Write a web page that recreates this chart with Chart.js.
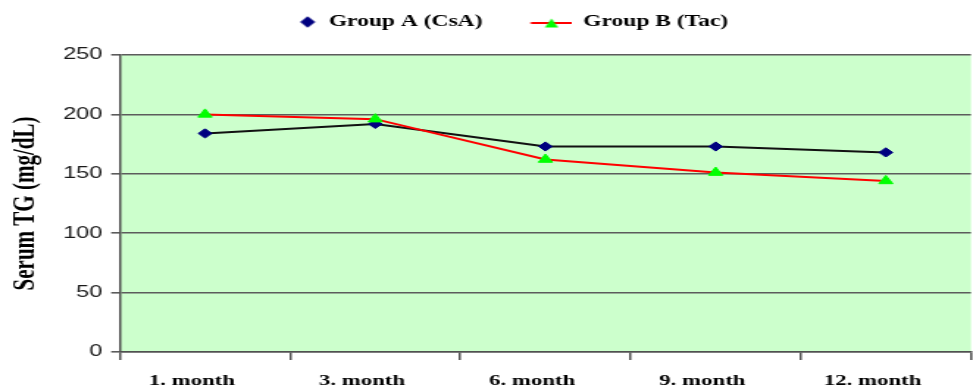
<!DOCTYPE html>
<html>
<head>
<meta charset="utf-8">
<script src="https://cdn.jsdelivr.net/npm/chart.js@4.4.1/dist/chart.umd.min.js"></script>
<style>
  html, body { margin: 0; padding: 0; background: #ffffff; overflow: hidden; }
  #frame { width: 973px; height: 387px; overflow: hidden; }
  /* the chart is laid out narrow and widened horizontally */
  #wrap { width: 662px; height: 387px; transform: scaleX(1.46979); transform-origin: 0 0; }
</style>
</head>
<body>
<div id="frame"><div id="wrap"><canvas id="c" width="662" height="387"></canvas></div></div>
<script>
const categories = ['1. month', '3. month', '6. month', '9. month', '12. month'];
const groupA = [184, 192, 173, 173, 168];   // Group A (CsA)
const groupB = [200, 196, 162, 151, 144];   // Group B (Tac)
const yTicks = [0, 50, 100, 150, 200, 250];
const seriesNames = ['Group A (CsA)', 'Group B (Tac)'];
const yTitle = 'Serum TG (mg/dL)';

const SERIF = '"Liberation Serif", "Times New Roman", serif';
const SANS = '"Liberation Sans", Arial, sans-serif';

// legend swatches
function makeIcon(w, h, draw) {
  const c = document.createElement('canvas');
  c.width = w; c.height = h;
  draw(c.getContext('2d'));
  return c;
}
const ICON_W = 50.5;
const iconA = makeIcon(ICON_W, 16, g => {
  g.fillStyle = '#000080';
  g.beginPath();
  g.moveTo(43.9, 2.2); g.lineTo(49, 8); g.lineTo(43.9, 13.8); g.lineTo(38.8, 8);
  g.closePath(); g.fill();
});
const iconB = makeIcon(ICON_W, 16, g => {
  g.strokeStyle = '#ff0000'; g.lineWidth = 2;
  g.beginPath(); g.moveTo(22.5, 9); g.lineTo(50.5, 9); g.stroke();
  g.fillStyle = '#00ff00';
  g.beginPath(); g.moveTo(36.7, 4.5); g.lineTo(41.2, 13.5); g.lineTo(32.2, 13.5); g.closePath(); g.fill();
});
const legendIcons = [iconA, iconB];

const plotFill = {
  id: 'plotFill',
  beforeDraw(chart) {
    const { ctx, chartArea: a } = chart;
    ctx.save();
    ctx.fillStyle = '#ccffcc';
    ctx.fillRect(a.left, a.top, a.right - a.left, a.bottom - a.top);
    ctx.restore();
  }
};

const legendSpace = {
  id: 'legendSpace',
  afterInit(chart) {
    const lg = chart.legend;
    if (!lg) return;
    const fit = lg.fit;
    lg.fit = function () { fit.call(this); this.height = 51; };
  }
};

new Chart(document.getElementById('c'), {
  type: 'line',
  data: {
    labels: categories,
    datasets: [
      {
        label: seriesNames[0],
        data: groupA,
        order: 1,
        borderColor: '#111111',
        borderWidth: 2,
        tension: 0,
        pointStyle: 'rectRot',
        pointRadius: 4.6,
        pointBackgroundColor: '#000080',
        pointBorderColor: '#000080',
        pointBorderWidth: 1
      },
      {
        label: seriesNames[1],
        data: groupB,
        order: 0,
        borderColor: '#ff0000',
        borderWidth: 2,
        tension: 0,
        pointStyle: 'triangle',
        pointRadius: 5.5,
        pointBackgroundColor: '#00ff00',
        pointBorderColor: '#00ff00',
        pointBorderWidth: 1
      }
    ]
  },
  options: {
    responsive: false,
    devicePixelRatio: 1,
    animation: false,
    layout: { autoPadding: false, padding: { top: 4, right: 1.4, left: 0, bottom: 0 } },
    plugins: {
      tooltip: { enabled: false },
      legend: {
        position: 'top',
        align: 'center',
        labels: {
          usePointStyle: true,
          pointStyleWidth: ICON_W,
          padding: 10,
          color: '#000000',
          font: { family: SERIF, weight: 'bold', size: 16 },
          generateLabels(chart) {
            return chart.data.datasets.map((d, i) => ({
              text: d.label,
              pointStyle: legendIcons[i],
              fillStyle: 'rgba(0,0,0,0)',
              strokeStyle: 'rgba(0,0,0,0)',
              lineWidth: 0,
              hidden: false,
              datasetIndex: i,
              fontColor: '#000000'
            }));
          }
        }
      }
    },
    scales: {
      x: {
        type: 'category',
        offset: true,
        grid: { offset: true, drawOnChartArea: false, drawTicks: true, tickLength: 8, color: '#505050', lineWidth: 1.5 },
        border: { color: '#505050', width: 1.5 },
        ticks: {
          color: '#000000',
          font: { family: SERIF, weight: 'bold', size: 15.5 },
          padding: 11.5,
          labelOffset: -9,
          maxRotation: 0,
          autoSkip: false
        },
        afterFit(s) { s.height = 35; }
      },
      y: {
        min: 0,
        max: 250,
        afterBuildTicks(s) { s.ticks = yTicks.map(v => ({ value: v })); },
        grid: { color: '#5c5c5c', lineWidth: 1.6, tickLength: 6, drawTicks: true },
        border: { color: '#505050', width: 1.5 },
        ticks: { color: '#1a1a1a', font: { family: SANS, size: 16 }, padding: 6 },
        title: {
          display: true,
          text: yTitle,
          color: '#000000',
          font: { family: SERIF, weight: 'bold', size: 21 },
          padding: { top: 4.5, bottom: 0 }
        },
        afterFit(s) { s.width = 81.6; }
      }
    }
  },
  plugins: [plotFill, legendSpace]
});
</script>
</body>
</html>
